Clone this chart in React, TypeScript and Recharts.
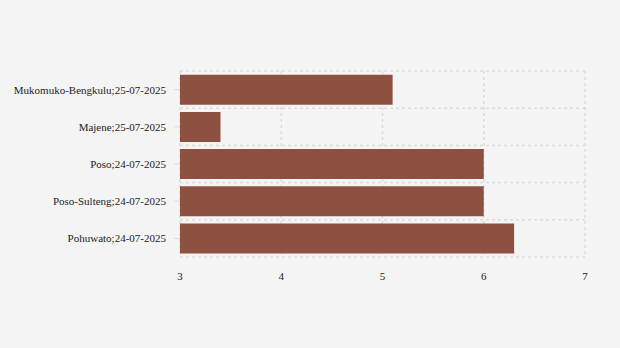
import React from "react";
import { BarChart, Bar, XAxis, YAxis, CartesianGrid } from "recharts";

const categories = [
  "Mukomuko-Bengkulu;25-07-2025",
  "Majene;25-07-2025",
  "Poso;24-07-2025",
  "Poso-Sulteng;24-07-2025",
  "Pohuwato;24-07-2025",
];
const values = [5.1, 3.4, 6.0, 6.0, 6.3];
const xTicks = [3, 4, 5, 6, 7];

const data = categories.map((name, i) => ({ name, value: values[i] }));

const font = "Liberation Serif";

export default function App() {
  return (
    <div style={{ position: "absolute", left: 0, top: 0, width: 620, height: 348, background: "#f4f4f4", fontFamily: font }}>
      <BarChart
        width={620}
        height={348}
        data={data}
        layout="vertical"
        margin={{ top: 71, right: 35, bottom: 61, left: 10 }}
        barCategoryGap="10%"
        style={{ fontFamily: font }}
      >
        <CartesianGrid
          stroke="#dcdcdc"
          strokeDasharray="3 3"
          strokeWidth={1.5}
          horizontalCoordinatesGenerator={({ offset }: any) =>
            Array.from({ length: categories.length + 1 }, (_, i) => offset.top + (offset.height * i) / categories.length)
          }
        />
        <XAxis
          type="number"
          domain={[3, 7]}
          ticks={xTicks}
          allowDataOverflow
          axisLine={false}
          tickLine={false}
          tickSize={6}
          tickMargin={9}
          height={30}
          tick={{ fill: "#222", fontSize: 11, fontFamily: font, style: { fontFamily: font } }}
        />
        <YAxis
          type="category"
          dataKey="name"
          width={170}
          axisLine={false}
          tickLine={{ stroke: "#dcdcdc" }}
          tickSize={6}
          tickMargin={8}
          tick={{ fill: "#222", fontSize: 11, fontFamily: font, style: { fontFamily: font } }}
        />
        <Bar dataKey="value" fill="#833f2e" fillOpacity={0.9} isAnimationActive={false} />
      </BarChart>
    </div>
  );
}
